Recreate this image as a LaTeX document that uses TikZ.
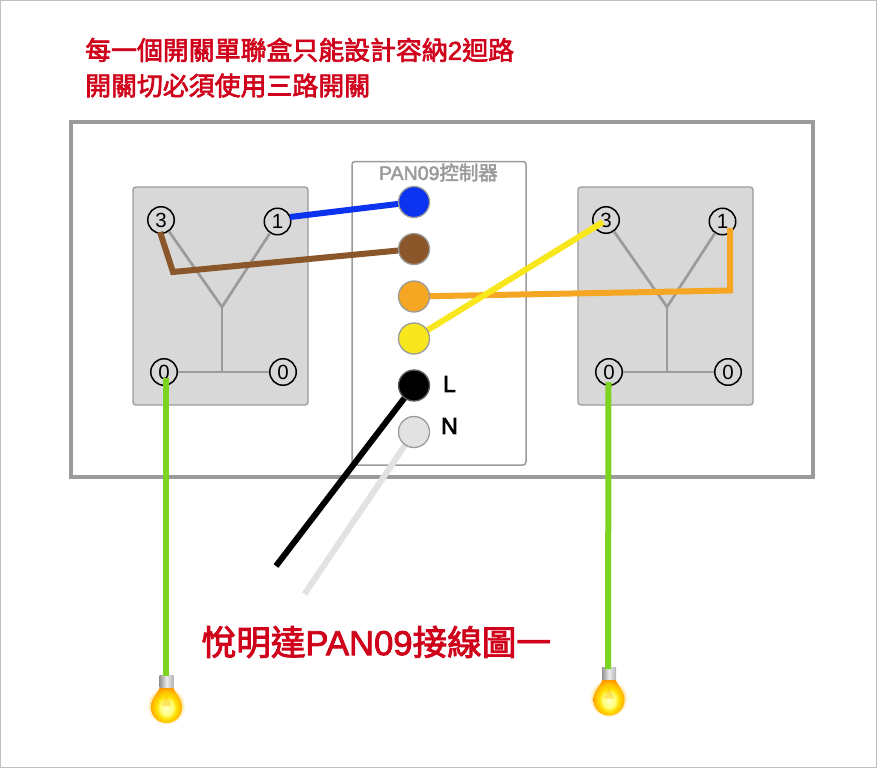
\documentclass[tikz,border=0pt]{standalone}
\usepackage{fontspec}
\setmainfont{Liberation Sans}
\newfontfamily\cjk[FakeBold=2.6]{Noto Sans CJK TC}
\newfontfamily\lat[FakeBold=2.4]{Liberation Sans}
\newfontfamily\lblf[FakeBold=3]{Liberation Sans}
\newcommand{\mix}[1]{{\lat #1}}
\usetikzlibrary{calc}
\definecolor{rd}{HTML}{D0021B}
\definecolor{gr}{HTML}{9B9B9B}
\definecolor{sw}{HTML}{D8D8D8}
\definecolor{bluew}{HTML}{0B33F0}
\definecolor{brownw}{HTML}{8B572A}
\definecolor{orangew}{HTML}{F5A623}
\definecolor{yelloww}{HTML}{F8E71C}
\definecolor{greenw}{HTML}{7ED321}
\definecolor{nw}{HTML}{E2E2E2}
\pgfdeclareradialshading{bulbglow}{\pgfpoint{0bp}{-5bp}}{%
  color(0bp)=(yellow!25!white); color(10bp)=(yellow!50!white); color(16bp)=(yellow!75!orange);
  color(23bp)=(orange!55!yellow); color(26bp)=(orange!80!yellow); color(50bp)=(orange!80!yellow)}
\tikzset{
  swbox/.style={draw=gr,fill=sw,line width=1.3pt,rounded corners=3pt},
  term/.style={circle,draw=black,line width=1.5pt,minimum size=26.5pt,inner sep=0pt,font=\fontsize{20.5}{20.5}\selectfont},
  arm/.style={draw=gr,line width=2.7pt},
  wire/.style={line width=6pt},
  port/.style={circle,draw=gr,line width=1.3pt,minimum size=31pt,inner sep=0pt},
  titletext/.style={text=rd,anchor=west,font=\cjk\fontsize{25.9}{25.9}\selectfont,inner sep=0pt},
  lbl/.style={font=\lblf\fontsize{23}{23}\selectfont,inner sep=0pt}
}
\newcommand{\bulbat}[2]{%
\begin{scope}[shift={(#1,#2)}]
  \fill[orange!50!yellow,opacity=.15] (0,31) circle (18.5);
  \fill[orange!50!yellow,opacity=.2] (0,31) circle (17);
  \shade[shading=bulbglow]
    (-6.5,12) .. controls (-8,18) and (-15.5,23) .. (-15.5,32)
    .. controls (-15.5,42) and (-8,48) .. (0,48)
    .. controls (8,48) and (15.5,42) .. (15.5,32)
    .. controls (15.5,23) and (8,18) .. (6.5,12) -- cycle;
  \fill[orange!60!yellow,opacity=.35] (0,19) -- (-5,31) -- (5,31) -- cycle;
  \shade[left color=gray!85,right color=gray!60,middle color=gray!15] (-7,0) rectangle (7,12);
\end{scope}}
\begin{document}
\begin{tikzpicture}[x=1pt,y=-1pt]
\useasboundingbox (0,0) rectangle (877,768);
\fill[white] (0,0) rectangle (877,768);
\draw[gray!50,line width=1pt] (.5,.5) rectangle (876.5,767.5);

\node[titletext] (t1) at (85,50) {每一個開關單聯盒只能設計容納\mix{2}迴路};
\node[titletext] (t2) at (85,85.5) {開關切必須使用三路開關};

\draw[gr,line width=4pt] (70.5,121.5) rectangle (813,477);

% left switch
\draw[swbox] (133,187) rectangle (308,405);
\node[term] (a3) at (161,220) {3};
\node[term] (a1) at (277.5,221.5) {1};
\node[term] (a0) at (164,372) {0};
\node[term] (a4) at (283,372) {0};
\coordinate (aj) at (222,307);
\coordinate (ab) at (222,370.5);
\draw[arm] (a3) -- (aj);
\draw[arm] (a1) -- (aj);
\draw[arm] (aj) -- (ab);
\draw[arm] (a0) -- (a4);

% right switch
\draw[swbox] (578,187) rectangle (753,405);
\node[term] (b3) at (606,220) {3};
\node[term] (b1) at (722.5,221.5) {1};
\node[term] (b0) at (609,372) {0};
\node[term] (b4) at (728,372) {0};
\coordinate (bj) at (667,307);
\coordinate (bb) at (667,370.5);
\draw[arm] (b3) -- (bj);
\draw[arm] (b1) -- (bj);
\draw[arm] (bj) -- (bb);
\draw[arm] (b0) -- (b4);

% controller
\draw[draw=gr,line width=1.5pt,rounded corners=3pt] (352,161.5) rectangle (526,465);
\node[text=gr,font=\cjk\fontsize{19.5}{19.5}\selectfont,inner sep=0pt] (ctl) at (438.5,172.5) {\mix{PAN09}控制器};
\coordinate (pblue) at (414,202);
\coordinate (pbrown) at (414,249);
\coordinate (porange) at (414,296.5);
\coordinate (pyellow) at (414,338.5);
\coordinate (pl) at (414,385.5);
\coordinate (pn) at (414,432);

% wire ends
\coordinate (brA) at (160,232);
\coordinate (brB) at (173,272);
\coordinate (blA) at (290,217);
\coordinate (orB) at (730,290.5);
\coordinate (orA) at (730,228);
\coordinate (yeA) at (603,222);
\coordinate (gA) at (166,378);
\coordinate (gB) at (608.5,382);
\coordinate (lend) at (276,566);
\coordinate (nend) at (304.5,594);
\coordinate (bulbA) at (166,676);
\coordinate (bulbB) at (608,669);

\bulbat{166.5}{675}
\bulbat{609}{667.5}

\draw[wire,greenw] (gA) -- (bulbA);
\draw[wire,greenw] (gB) -- (bulbB);
\draw[wire,bluew] (blA) -- (pblue);
\draw[wire,brownw,miter limit=10] (brA) -- (brB) -- (pbrown);
\draw[wire,orangew] (porange) -- (orB) -- (orA);
\draw[wire,yelloww] (pyellow) -- (yeA);
\draw[wire,black] (pl) -- (lend);
\draw[wire,nw] (pn) -- (nend);

\node[port,fill=bluew] (nblue) at (pblue) {};
\node[port,fill=brownw] (nbrown) at (pbrown) {};
\node[port,fill=orangew] (norange) at (porange) {};
\node[port,fill=yelloww] (nyellow) at (pyellow) {};
\node[port,fill=black,draw=gr!60!black] (nl) at (pl) {};
\node[port,fill=nw] (nn) at (pn) {};
\node[lbl] (ll) at (449.5,384) {L};
\node[lbl] (ln) at (449.5,426) {N};

\node[text=rd,anchor=west,font=\cjk\fontsize{34.6}{34.6}\selectfont,inner sep=0pt] (cap) at (201.5,642) {悅明達\mix{PAN09}接線圖一};
\end{tikzpicture}
\end{document}
